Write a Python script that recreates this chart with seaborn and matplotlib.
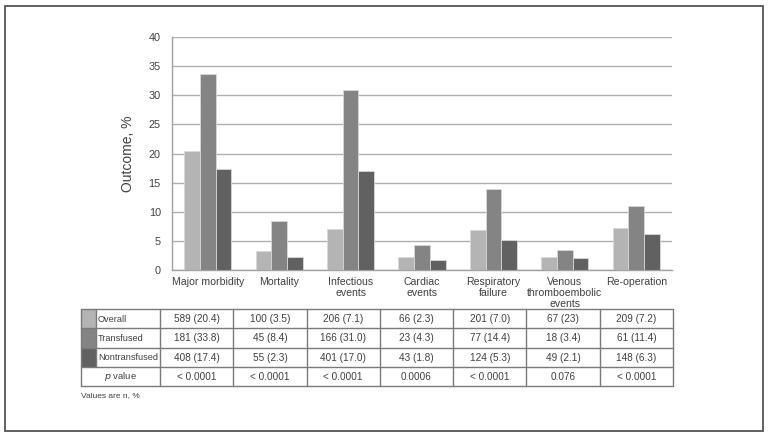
#!/usr/bin/env python3
"""Outcome by transfusion status: grouped bars with a data table underneath."""

import matplotlib
matplotlib.use("Agg")
import matplotlib.pyplot as plt
import pandas as pd
import seaborn as sns
from matplotlib.patches import Rectangle

CATEGORIES = ["Major morbidity", "Mortality", "Infectious\nevents", "Cardiac\nevents",
              "Respiratory\nfailure", "Venous\nthromboembolic\nevents", "Re-operation"]
SERIES = ["Overall", "Transfused", "Nontransfused"]
OVERALL = [20.4, 3.3, 7.0, 2.2, 6.9, 2.3, 7.2]
TRANSFUSED = [33.7, 8.4, 30.9, 4.3, 13.9, 3.4, 11.0]
NONTRANSFUSED = [17.3, 2.2, 17.0, 1.7, 5.2, 2.0, 6.2]
COLORS = ["#b4b4b4", "#848484", "#616161"]

TABLE_OVERALL = ["589 (20.4)", "100 (3.5)", "206 (7.1)", "66 (2.3)", "201 (7.0)", "67 (23)", "209 (7.2)"]
TABLE_TRANSFUSED = ["181 (33.8)", "45 (8.4)", "166 (31.0)", "23 (4.3)", "77 (14.4)", "18 (3.4)", "61 (11.4)"]
TABLE_NONTRANSFUSED = ["408 (17.4)", "55 (2.3)", "401 (17.0)", "43 (1.8)", "124 (5.3)", "49 (2.1)", "148 (6.3)"]
P_VALUES = ["< 0.0001", "< 0.0001", "< 0.0001", "0.0006", "< 0.0001", "0.076", "< 0.0001"]

TEXT = "#404040"
LINE = "#7a7a7a"

sns.set_style("white")
plt.rcParams["font.family"] = ["Liberation Sans", "DejaVu Sans"]

frame = pd.DataFrame({
    "category": CATEGORIES * 3,
    "series": [s for s in SERIES for _ in CATEGORIES],
    "value": OVERALL + TRANSFUSED + NONTRANSFUSED,
})

W, H = 769, 437
fig = plt.figure(figsize=(W / 100, H / 100), dpi=100)
fig.patch.set_facecolor("white")

# outer frame
fig.add_artist(Rectangle((5 / W, 6 / H), 758 / W, 425 / H, transform=fig.transFigure,
                         fill=False, edgecolor="#555555", linewidth=1.3))

ax = fig.add_axes([172 / W, 1 - 270 / H, 500 / W, 233 / H])
sns.barplot(data=frame, x="category", y="value", hue="series", order=CATEGORIES,
            hue_order=SERIES, palette=COLORS, width=0.66, saturation=1,
            edgecolor="#d8d8d8", linewidth=0.6, legend=False, ax=ax, zorder=3)
ax.set_ylim(0, 40)
ax.set_yticks(range(0, 41, 5))
ax.set_xlim(-0.5, len(CATEGORIES) - 0.5)
ax.yaxis.grid(True, color="#b0b0b0", linewidth=1.0, zorder=0)
ax.set_axisbelow(True)
for side in ["top", "right"]:
    ax.spines[side].set_visible(False)
for side in ["left", "bottom"]:
    ax.spines[side].set_color("#a0a0a0")
    ax.spines[side].set_linewidth(1.0)
ax.set_xlabel("")
ax.set_ylabel("Outcome, %", fontsize=10, color=TEXT, labelpad=10)
ax.tick_params(axis="y", length=4, width=0.8, color="#a0a0a0", labelsize=7.8, labelcolor=TEXT, pad=4)
ax.tick_params(axis="x", which="major", length=0, labelsize=7.6, labelcolor=TEXT, pad=5)
ax.set_xticks([i + 0.5 for i in range(-1, len(CATEGORIES))], minor=True)
ax.tick_params(axis="x", which="minor", length=4, width=0.8, color="#a0a0a0")
for label in ax.get_xticklabels():
    label.set_linespacing(1.15)
    label.set_verticalalignment("top")

# data table
tx0, tx1, ty0, ty1 = 81, 673, 309, 386
tab = fig.add_axes([tx0 / W, 1 - ty1 / H, (tx1 - tx0) / W, (ty1 - ty0) / H])
tab.set_xlim(0, tx1 - tx0)
tab.set_ylim(4, 0)
tab.axis("off")
swatch_w, label_w = 15, 64
col_w = (tx1 - tx0 - swatch_w - label_w) / len(CATEGORIES)
rows = [TABLE_OVERALL, TABLE_TRANSFUSED, TABLE_NONTRANSFUSED, P_VALUES]

for r, color in enumerate(COLORS):
    tab.add_patch(Rectangle((0, r), swatch_w, 1, facecolor=color, edgecolor="none"))
    tab.text(swatch_w + 2, r + 0.52, SERIES[r], ha="left", va="center", fontsize=6.6, color=TEXT)
tab.text((swatch_w + label_w) / 2, 3.52, "$p$ value", ha="center", va="center", fontsize=6.8,
         color=TEXT)
for r, values in enumerate(rows):
    for c, val in enumerate(values):
        tab.text(swatch_w + label_w + (c + 0.5) * col_w, r + 0.52, val, ha="center",
                 va="center", fontsize=7.2, color=TEXT)

full = tx1 - tx0
for r in range(5):
    tab.plot([0, full], [r, r], color=LINE, linewidth=1.0, clip_on=False)
tab.plot([0, 0], [0, 4], color=LINE, linewidth=1.0, clip_on=False)
tab.plot([swatch_w, swatch_w], [0, 3], color=LINE, linewidth=1.0, clip_on=False)
for c in range(len(CATEGORIES) + 1):
    x = swatch_w + label_w + c * col_w
    tab.plot([x, x], [0, 4], color=LINE, linewidth=1.0, clip_on=False)

fig.text(tx0 / W, 1 - 396 / H, "Values are n, %", ha="left", va="center", fontsize=6, color=TEXT)

fig.savefig("out.png", dpi=100)
